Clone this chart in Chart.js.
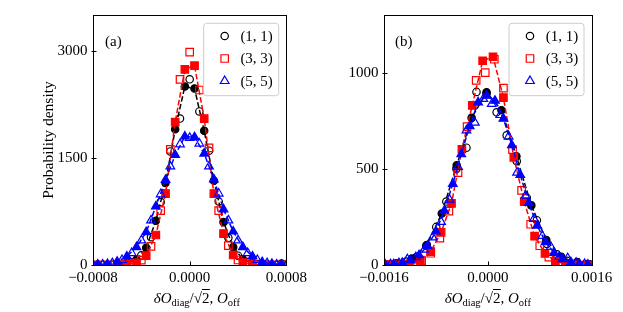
<!DOCTYPE html>
<html><head><meta charset="utf-8">
<script src="https://cdn.jsdelivr.net/npm/chart.js@4.4.1/dist/chart.umd.min.js"></script>
<style>
html,body{margin:0;padding:0;background:#fff;}
#wrap{position:relative;width:623px;height:312px;overflow:hidden;font-family:"Liberation Serif",serif;color:#000;}
canvas{position:absolute;top:0;}
.lbl{position:absolute;font-size:15px;line-height:15px;white-space:nowrap;}
.xt{position:absolute;font-size:15px;line-height:15px;white-space:nowrap;transform:translateX(-50%);}
.xt i{font-style:italic;}
.sb{font-size:10.5px;vertical-align:-3px;}
.ov{border-top:1px solid #000;padding-top:0px;}
</style></head><body>
<div id="wrap">
<canvas id="ca" width="311" height="312" style="left:0"></canvas>
<canvas id="cb" width="312" height="312" style="left:311px"></canvas>
<div class="lbl" style="left:105px;top:33.5px">(a)</div>
<div class="lbl" style="left:395px;top:33.5px">(b)</div>
<div class="xt" style="left:196.8px;top:290.7px"><i>δO</i><span class="sb">diag</span>/√<span class="ov">2</span>, <i>O</i><span class="sb">off</span></div>
<div class="xt" style="left:487.8px;top:290.7px"><i>δO</i><span class="sb">diag</span>/√<span class="ov">2</span>, <i>O</i><span class="sb">off</span></div>
</div>
<script>
// ---------- Panel (a) ----------
const xA_filled = [-0.00076,-0.00068,-0.0006,-0.00052,-0.00044,-0.00036,-0.00028,-0.0002,-0.00012,-0.00004,0.00004,0.00012,0.0002,0.00028,0.00036,0.00044,0.00052,0.0006,0.00068,0.00076];
const xA_open = [-0.0008,-0.00072,-0.00064,-0.00056,-0.00048,-0.0004,-0.00032,-0.00024,-0.00016,-0.00008,0,0.00008,0.00016,0.00024,0.00032,0.0004,0.00048,0.00056,0.00064,0.00072,0.0008];
const yA_11_filled = [5,3,8,20,75,240,620,1150,1900,2500,2470,1880,1180,600,250,80,22,8,3,20];
const yA_11_open = [0,1,3,8,37,135,390,880,1590,2050,2600,2150,1600,890,380,130,40,9,2,0,0];
const yA_33_filled = [0,0,3,8,30,130,420,1000,2000,2740,2790,2050,1000,440,140,35,8,2,0,0];
const yA_33_open = [0,0,0,2,12,67,260,760,1620,2600,2980,2450,1640,760,270,70,12,2,0,0,0];
const yA_55_filled = [6,14,46,120,250,460,820,1190,1540,1800,1790,1560,1200,780,470,250,120,40,16,4];
const yA_55_open = [2,8,26,70,167,345,625,990,1380,1690,1780,1700,1380,1000,625,345,167,70,26,8,2];
const xTicksA = [-0.0008, 0, 0.0008];
const yTicksA = [0, 1500, 3000];

// ---------- Panel (b) ----------
const xB_11_filled = [-0.0014,-0.00117,-0.00094,-0.00071,-0.00048,-0.00025,-0.00002,0.00021,0.00044,0.00067,0.0009,0.00113,0.00136,0.00159];
const yB_11_filled = [8,33,104,268,518,765,898,805,565,310,130,43,10,3];
const xB_11_open = [-0.00157,-0.001415,-0.00126,-0.001105,-0.00095,-0.000795,-0.00064,-0.000485,-0.00033,-0.000175,-0.00002,0.000135,0.00029,0.000445,0.0006,0.000755,0.00091,0.001065,0.00122,0.001375,0.00153];
const yB_11_open = [3,8,18,40,100,198,330,500,610,900,890,794,674,540,350,233,110,55,22,15,5];
const xB_33_filled = [-0.00152,-0.00136,-0.0012,-0.00104,-0.00088,-0.00072,-0.00056,-0.0004,-0.00024,-0.00008,0.00008,0.00024,0.0004,0.00056,0.00072,0.00088,0.00104,0.0012,0.00136,0.00152];
const yB_33_filled = [3,1,6,25,70,170,320,602,830,1062,1083,870,560,330,150,60,20,6,1,0];
const xB_33_open = [-0.00158,-0.00144,-0.0013,-0.00116,-0.00102,-0.00088,-0.00074,-0.0006,-0.00046,-0.00032,-0.00018,-0.00004,0.0001,0.00024,0.00038,0.00052,0.00066,0.0008,0.00094,0.00108,0.00122,0.00136,0.0015];
const yB_33_open = [0,1,2,8,23,61,140,280,480,720,960,1000,1070,920,600,388,212,100,41,15,4,1,0];
const xB_55_filled = [-0.00158,-0.00145,-0.00132,-0.00119,-0.00106,-0.00093,-0.0008,-0.00067,-0.00054,-0.00041,-0.00028,-0.00015,-0.00002,0.00011,0.00024,0.00037,0.0005,0.00063,0.00076,0.00089,0.00102,0.00115,0.00128,0.00141,0.00154];
const yB_55_filled = [1,4,11,24,51,99,175,283,422,576,722,846,880,854,761,623,468,323,205,119,63,31,14,5,2];
const xB_55_open = [-0.0015,-0.00137,-0.00124,-0.00111,-0.00098,-0.00085,-0.00072,-0.00059,-0.00046,-0.00033,-0.0002,-0.00007,0.00006,0.00019,0.00032,0.00045,0.00058,0.00071,0.00084,0.00097,0.0011,0.00123,0.00136,0.00149];
const yB_55_open = [4,10,30,41,80,144,224,340,510,700,740,864,838,780,668,480,360,240,151,95,43,35,12,5];
const xTicksB = [-0.0016, 0, 0.0016];
const yTicksB = [0, 500, 1000];

const seriesLabels = ['(1, 1)', '(3, 3)', '(5, 5)'];
const colors = ['#000000', '#ff0000', '#0000ff'];
const styles = ['circle', 'rect', 'triangle'];
const radii = [3.7, 5.3, 5.0];

const FONT = '"Liberation Serif", serif';
const fmt = v => Math.abs(v) < 1e-12 ? '0.0000' : (v < 0 ? '\u2212' : '') + Math.abs(v).toFixed(4);

function pts(xs, ys){ return xs.map((x,i)=>({x:x, y:ys[i]})); }

function buildSets(list){
  const out = [];
  list.forEach((s, k) => {
    out.push({
      data: pts(s.xf, s.yf), showLine: true, borderColor: colors[k], borderWidth: 1.5,
      borderDash: [5.5, 2.4], backgroundColor: colors[k], pointStyle: styles[k],
      pointRadius: radii[k], pointBorderWidth: 1.2, pointBackgroundColor: colors[k],
      pointBorderColor: colors[k], order: 10 - 2*k
    });
    out.push({
      data: pts(s.xo, s.yo), showLine: false, borderColor: colors[k],
      backgroundColor: 'rgba(0,0,0,0)', pointStyle: styles[k], pointRadius: radii[k],
      pointBorderWidth: 1.2, pointBackgroundColor: 'rgba(0,0,0,0)', pointBorderColor: colors[k],
      order: 9 - 2*k, legendLabel: seriesLabels[k]
    });
  });
  return out;
}

function marker(ctx, style, r, x, y){
  ctx.beginPath();
  if (style === 'circle') { ctx.arc(x, y, r, 0, Math.PI*2); }
  else if (style === 'rect') { const s = r*Math.SQRT1_2; ctx.rect(x-s, y-s, 2*s, 2*s); }
  else { const a = 2*Math.PI/3; let rad = 0;
    ctx.moveTo(x + Math.sin(rad)*r, y - Math.cos(rad)*r); rad += a;
    ctx.lineTo(x + Math.sin(rad)*r, y - Math.cos(rad)*r); rad += a;
    ctx.lineTo(x + Math.sin(rad)*r, y - Math.cos(rad)*r); ctx.closePath(); }
  ctx.stroke();
}

const decor = {
  id: 'decor',
  afterDatasetsDraw(chart){
    const {ctx, chartArea: a, scales: {x, y}} = chart;
    ctx.save();
    ctx.strokeStyle = '#000'; ctx.lineWidth = 1;
    ctx.beginPath();
    x.ticks.forEach(t => { const p = Math.round(x.getPixelForValue(t.value)) + 0.5; ctx.moveTo(p, a.bottom); ctx.lineTo(p, a.bottom - 3.5); });
    y.ticks.forEach(t => { const p = Math.round(y.getPixelForValue(t.value)) + 0.5; ctx.moveTo(a.left - 1.5, p); ctx.lineTo(a.left + 3.5, p); });
    ctx.stroke();
    ctx.strokeRect(Math.round(a.left) + 0.5, Math.round(a.top) + 0.5, Math.round(a.right - a.left), Math.round(a.bottom - a.top));
    // legend
    const items = chart.data.datasets.filter(d => d.legendLabel);
    const w = 75, h = 72.4;
    const bx = a.right - 7.7 - w, by = a.top + 8.3;
    ctx.beginPath();
    if (ctx.roundRect) ctx.roundRect(bx, by, w, h, 3); else ctx.rect(bx, by, w, h);
    ctx.fillStyle = 'rgba(255,255,255,0.8)'; ctx.fill();
    ctx.strokeStyle = '#cccccc'; ctx.lineWidth = 1; ctx.stroke();
    items.sort((p, q) => q.order - p.order);
    items.forEach((d, i) => {
      const yy = by + 12.7 + i*22.5;
      ctx.strokeStyle = d.pointBorderColor; ctx.lineWidth = 1.2;
      marker(ctx, d.pointStyle, d.pointRadius, bx + 21, yy);
      ctx.fillStyle = '#000'; ctx.font = '15px ' + FONT; ctx.textBaseline = 'middle'; ctx.textAlign = 'left';
      ctx.fillText(d.legendLabel, bx + 36.7, yy + 1);
    });
    ctx.restore();
  }
};

function makeChart(id, sets, xMin, xMax, xTicks, yMax, yTicks, yTitle, yWidth, padRight){
  return new Chart(document.getElementById(id), {
    type: 'scatter',
    data: { datasets: buildSets(sets) },
    options: {
      responsive: false, animation: false, events: [],
      layout: { padding: { left: 0, top: 15, right: padRight, bottom: 0 } },
      plugins: { legend: { display: false }, tooltip: { enabled: false } },
      scales: {
        x: {
          type: 'linear', min: xMin, max: xMax,
          afterBuildTicks: s => { s.ticks = xTicks.map(v => ({ value: v })); },
          afterFit: s => { s.height = 47; },
          grid: { display: false, drawTicks: false }, border: { display: false },
          ticks: { callback: v => fmt(v), color: '#000', font: { family: FONT, size: 15 }, padding: 4, maxRotation: 0, autoSkip: false }
        },
        y: {
          type: 'linear', min: 0, max: yMax,
          afterBuildTicks: s => { s.ticks = yTicks.map(v => ({ value: v })); },
          afterFit: s => { s.width = yWidth; },
          grid: { display: false, drawTicks: false }, border: { display: false },
          ticks: { callback: v => String(v), color: '#000', font: { family: FONT, size: 15 }, padding: 5.5 },
          title: { display: !!yTitle, text: yTitle || '', color: '#000', font: { family: FONT, size: 15.5 }, padding: { top: 39.5, bottom: 0 } }
        }
      }
    },
    plugins: [decor]
  });
}

makeChart('ca', [
  { xf: xA_filled, yf: yA_11_filled, xo: xA_open, yo: yA_11_open },
  { xf: xA_filled, yf: yA_33_filled, xo: xA_open, yo: yA_33_open },
  { xf: xA_filled, yf: yA_55_filled, xo: xA_open, yo: yA_55_open }
], -0.0008, 0.0008, xTicksA, 3500, yTicksA, 'Probability density', 93, 10.3);

makeChart('cb', [
  { xf: xB_11_filled, yf: yB_11_filled, xo: xB_11_open, yo: yB_11_open },
  { xf: xB_33_filled, yf: yB_33_filled, xo: xB_33_open, yo: yB_33_open },
  { xf: xB_55_filled, yf: yB_55_filled, xo: xB_55_open, yo: yB_55_open }
], -0.0016, 0.0016, xTicksB, 1300, yTicksB, '', 73, 31.3);
</script>
</body></html>
